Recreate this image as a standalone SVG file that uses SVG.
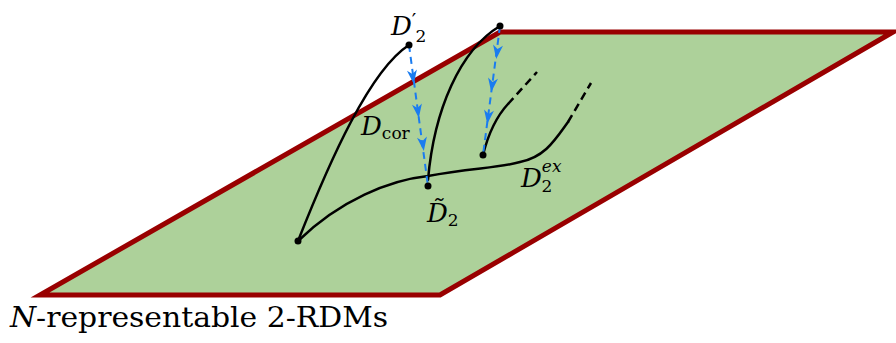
<svg xmlns="http://www.w3.org/2000/svg" width="896" height="343" viewBox="0 0 896 343">
<defs>
<style>
.curve{fill:none;stroke:#000;stroke-width:2.5;stroke-linecap:round}
.dash{fill:none;stroke:#000;stroke-width:2.5;stroke-dasharray:8,5}
.blue{fill:none;stroke:#1a7cf0;stroke-width:2;stroke-dasharray:7,5}
.ah{fill:#1a7cf0}
.lbl{font-family:'DejaVu Serif','Liberation Serif',serif;fill:#000}
</style>
<path id="arrow" d="M-5,-8 L0,6 L5,-8 L0,-4 Z"/>
</defs>
<g id="plane">
<polygon points="40,295 440,295 893,32 500,32" fill="#add19a" stroke="#990000" stroke-width="5" stroke-linejoin="miter"/>
</g>
<g id="connectors">
<path class="curve" d="M298,241 C330,160 370,70 409,45"/>
<path class="curve" d="M298,241 C340,200 390,180 428,176 C470,168 500,168 520,162 C545,157 555,140 568,122"/>
<path class="dash" d="M568,122 L591,83"/>
<path class="curve" d="M428,180 C434,110 460,50 500,26"/>
<path class="curve" d="M483,155 C488,135 495,118 508,104"/>
<path class="dash" d="M508,104 L537,72"/>
<path class="blue" d="M409,45 L428,186"/>
<path class="blue" d="M500,26 L483,155"/>
<use href="#arrow" class="ah" transform="translate(413,78) rotate(-7.7)"/>
<use href="#arrow" class="ah" transform="translate(418,112) rotate(-7.7)"/>
<use href="#arrow" class="ah" transform="translate(423,145) rotate(-7.7)"/>
<use href="#arrow" class="ah" transform="translate(497,53) rotate(7.4)"/>
<use href="#arrow" class="ah" transform="translate(492,86) rotate(7.4)"/>
<use href="#arrow" class="ah" transform="translate(488,118) rotate(7.4)"/>
</g>
<g id="points">
<circle cx="298" cy="241" r="3.5"/>
<circle cx="409" cy="45" r="3.5"/>
<circle cx="500" cy="26" r="3.5"/>
<circle cx="428" cy="186" r="3.5"/>
<circle cx="483" cy="155" r="3.5"/>
</g>
<g id="labels">
<text class="lbl" x="391" y="35" font-size="26" font-style="italic">D<tspan font-style="normal" font-size="20" dx="0" dy="-7">′</tspan><tspan font-style="normal" font-size="17" dx="-1" dy="14">2</tspan></text>
<text class="lbl" x="361" y="135" font-size="26" font-style="italic">D<tspan font-style="normal" font-size="17" dy="4">cor</tspan></text>
<text class="lbl" x="427" y="222" font-size="26" font-style="italic">D̃<tspan font-style="normal" font-size="17" dy="4">2</tspan></text>
<text class="lbl" x="521" y="187" font-size="26" font-style="italic">D<tspan font-size="17" dy="-15">ex</tspan><tspan font-style="normal" font-size="17" dx="-20" dy="20">2</tspan></text>
<text class="lbl" x="10" y="327" font-size="28" textLength="378" lengthAdjust="spacingAndGlyphs"><tspan font-style="italic">N</tspan>-representable 2-RDMs</text>
</g>
</svg>
